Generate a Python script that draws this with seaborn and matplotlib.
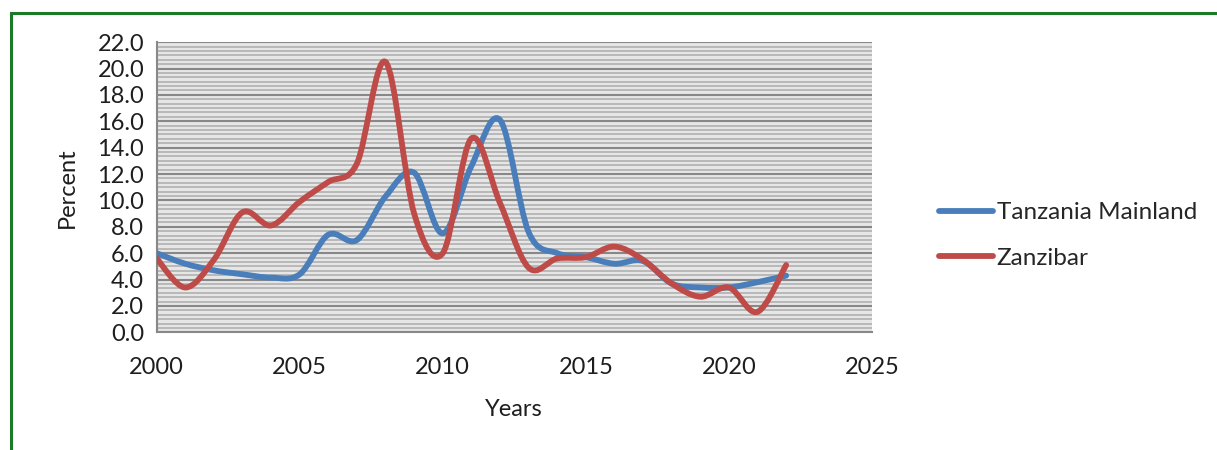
import seaborn as sns
import matplotlib.pyplot as plt
import numpy as np
import pandas as pd
from matplotlib.path import Path
from matplotlib.patches import PathPatch, Rectangle
from matplotlib.ticker import MultipleLocator, FormatStrFormatter

years = list(range(2000, 2023))
mainland = [6.0, 5.2, 4.7, 4.4, 4.15, 4.4, 7.4, 7.0, 10.3, 12.1, 7.5, 12.6,
            16.1, 7.6, 6.0, 5.7, 5.2, 5.4, 3.7, 3.4, 3.4, 3.8, 4.3]
zanzibar = [5.6, 3.4, 5.5, 9.1, 8.1, 9.9, 11.4, 12.8, 20.5, 9.0, 6.0, 14.7,
            9.8, 4.9, 5.6, 5.7, 6.5, 5.5, 3.7, 2.7, 3.4, 1.55, 5.1]
names = ['Tanzania Mainland', 'Zanzibar']
colors = ['#4a7ebb', '#be4b48']

df = pd.DataFrame({'Year': years * 2,
                   'Percent': mainland + zanzibar,
                   'Series': [names[0]] * len(years) + [names[1]] * len(years)})

sns.set_style('white')
plt.rcParams['font.family'] = ['Lato', 'DejaVu Sans']

fig = plt.figure(figsize=(12.17, 4.5), dpi=100)
ax = fig.add_axes([0.1287, 0.2615, 0.5878, 0.6449])

sns.lineplot(data=df, x='Year', y='Percent', hue='Series', palette=colors,
             linewidth=4, ax=ax)
sns.move_legend(ax, loc='center left', bbox_to_anchor=(0.754, 0.477),
                bbox_transform=fig.transFigure, frameon=False, title=None,
                fontsize=17.5, handlelength=2.2, handletextpad=0.15,
                labelspacing=1.0)
for ln in ax.get_legend().get_lines():
    ln.set_linewidth(4.2)
    ln.set_solid_capstyle('round')

# swap straight segments for smoothed curves (Excel style)
for line in list(ax.lines):
    line.remove()


def smooth_path(xs, ys):
    pts = np.column_stack([xs, ys]).astype(float)
    n = len(pts)
    verts = [pts[0]]
    codes = [Path.MOVETO]
    for i in range(n - 1):
        p0 = pts[max(i - 1, 0)]
        p1 = pts[i]
        p2 = pts[i + 1]
        p3 = pts[min(i + 2, n - 1)]
        verts += [p1 + (p2 - p0) / 6, p2 - (p3 - p1) / 6, p2]
        codes += [Path.CURVE4] * 3
    return Path(verts, codes)


for vals, col in zip([mainland, zanzibar], colors):
    ax.add_patch(PathPatch(smooth_path(years, vals), facecolor='none',
                           edgecolor=col, lw=4.2, capstyle='round',
                           joinstyle='round', zorder=3))

ax.set_xlim(2000, 2025)
ax.set_ylim(0, 22)
ax.xaxis.set_major_locator(MultipleLocator(5))
ax.yaxis.set_major_locator(MultipleLocator(2))
ax.yaxis.set_minor_locator(MultipleLocator(1 / 3))
ax.yaxis.set_major_formatter(FormatStrFormatter('%.1f'))

ax.set_facecolor('#e6e6e6')
ax.set_axisbelow(True)
ax.grid(which='major', axis='y', color='#888888', lw=1.5)
ax.grid(which='minor', axis='y', color='#b0b0b0', lw=1.2)
ax.grid(which='major', axis='x', visible=False)

sns.despine(ax=ax, top=True, right=True)
for s in ['left', 'bottom']:
    ax.spines[s].set_color('#888888')
    ax.spines[s].set_linewidth(1.5)

ax.tick_params(axis='both', which='major', direction='out', length=6,
               width=1.5, color='#888888', labelcolor='#1e1e1e')
ax.tick_params(axis='y', which='minor', length=0)
ax.tick_params(axis='y', labelsize=17, pad=3)
ax.tick_params(axis='x', labelsize=17, pad=12)

ax.set_xlabel('Years', fontsize=17, color='#1e1e1e', labelpad=15)
ax.set_ylabel('Percent', fontsize=17, color='#1e1e1e', labelpad=14)

fig.patches.append(Rectangle((11 / 1217, -0.2), 1.2, 1.2 - 13 / 450,
                             transform=fig.transFigure, fill=False,
                             edgecolor='#1a7a28', lw=2.2, figure=fig))

fig.savefig('out.png', dpi=100)
